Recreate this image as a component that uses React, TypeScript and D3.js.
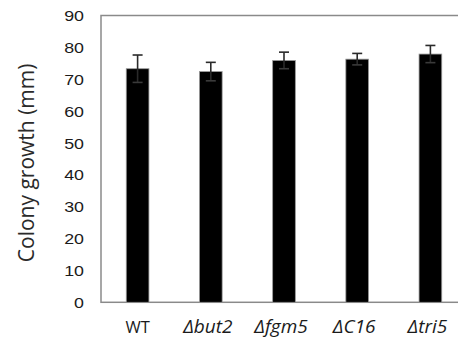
import React from 'react';
import * as d3 from 'd3';

const strains = ['WT', 'Δbut2', 'Δfgm5', 'ΔC16', 'Δtri5'];
const growth = [73.3, 72.4, 75.9, 76.3, 77.9];
const growthErr = [4.3, 2.9, 2.6, 1.8, 2.7];
const yTicks = [0, 10, 20, 30, 40, 50, 60, 70, 80, 90];

const W = 458;
const H = 341;
const plot = { left: 101, right: 467, top: 15.5, bottom: 302.3 };

const App: React.FC = () => {
  const x = d3
    .scaleBand<string>()
    .domain(strains)
    .range([plot.left, plot.right])
    .paddingInner(0.69)
    .paddingOuter(0.345);

  const y = d3.scaleLinear().domain([0, 90]).range([plot.bottom, plot.top]);

  const textColor = '#1b1b1b';

  return (
    <svg
      width={W}
      height={H}
      style={{ position: 'absolute', left: 0, top: 0, background: '#fff' }}
    >
      {/* frame */}
      <rect
        x={plot.left}
        y={plot.top}
        width={plot.right - plot.left}
        height={plot.bottom - plot.top}
        fill="none"
        stroke="#8a8a8a"
        strokeWidth={1.5}
      />

      {/* y tick labels */}
      {yTicks.map((t) => (
        <text
          key={t}
          x={84}
          y={y(t)}
          dy="0.36em"
          textAnchor="end"
          fontFamily="Liberation Sans, Arial, sans-serif"
          fontSize={15.5}
          fill={textColor}
          transform={`translate(84,0) scale(1.15,1) translate(-84,0)`}
        >
          {t}
        </text>
      ))}

      {/* y axis title */}
      <text
        transform={`translate(34,${(plot.top + plot.bottom) / 2 + 4}) rotate(-90)`}
        textAnchor="middle"
        fontFamily="Open Sans, sans-serif"
        fontSize={21}
        fill="#2a2a2a"
      >
        Colony growth (mm)
      </text>

      {/* bars */}
      {strains.map((s, i) => (
        <rect
          key={s}
          x={x(s)!}
          y={y(growth[i])}
          width={x.bandwidth()}
          height={y(0) - y(growth[i])}
          fill="#000"
          stroke="#9a9a9a"
          strokeWidth={0.8}
        />
      ))}

      {/* error bars */}
      {strains.map((s, i) => {
        const cx = x(s)! + x.bandwidth() / 2;
        const hi = y(growth[i] + growthErr[i]);
        const lo = y(growth[i] - growthErr[i]);
        return (
          <g key={s} stroke="#2a2a2a" strokeWidth={1.6}>
            <line x1={cx} x2={cx} y1={hi} y2={lo} />
            <line x1={cx - 5} x2={cx + 5} y1={hi} y2={hi} />
            <line x1={cx - 5} x2={cx + 5} y1={lo} y2={lo} stroke="#3a3a3a" />
          </g>
        );
      })}

      {/* x labels */}
      {strains.map((s) => (
        <text
          key={s}
          x={x(s)! + x.bandwidth() / 2 - (s === 'WT' ? 0 : 3)}
          y={333}
          textAnchor="middle"
          fontFamily="Open Sans, sans-serif"
          fontStyle={s === 'WT' ? 'normal' : 'italic'}
          fontSize={s === 'WT' ? 16.5 : 19}
          fill={textColor}
        >
          {s}
        </text>
      ))}
    </svg>
  );
};

export default App;
